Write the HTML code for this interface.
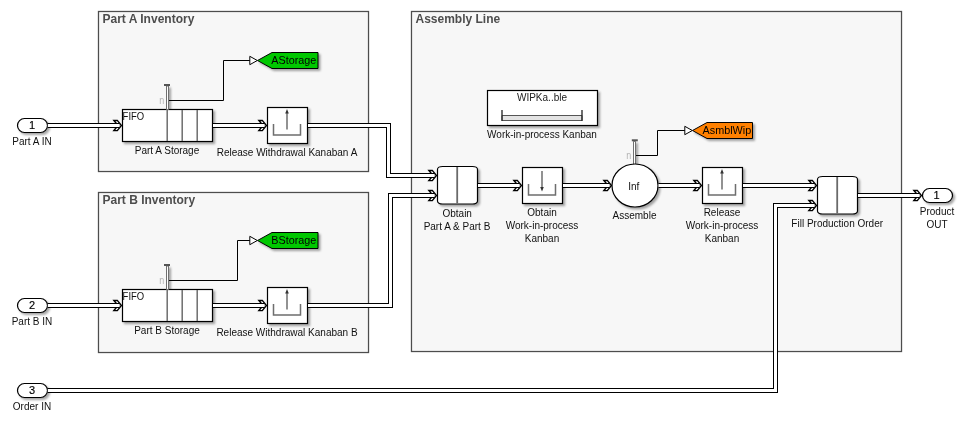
<!DOCTYPE html>
<html><head><meta charset="utf-8">
<style>
html,body{margin:0;padding:0;background:#fff;}
body{width:966px;height:425px;overflow:hidden;}
svg{display:block;will-change:transform;font-family:"Liberation Sans",sans-serif;}
.sb{fill:none;stroke:#000;stroke-width:5;stroke-linejoin:miter;stroke-linecap:butt;}
.sw{fill:none;stroke:#fff;stroke-width:3;stroke-linejoin:miter;stroke-linecap:butt;}
.ab{fill:none;stroke:#000;stroke-width:3.2;stroke-linejoin:miter;}
.aw{fill:none;stroke:#fff;stroke-width:1;stroke-linejoin:miter;}
.lbl{font-size:10px;fill:#111;text-anchor:middle;}
.num{font-size:11px;fill:#000;stroke:#000;stroke-width:0.15;text-anchor:middle;}
.ttl{font-size:12px;font-weight:bold;fill:#4d4d4d;}
.blk{fill:#fff;stroke:#000;stroke-width:1.2;}
.thin{fill:none;stroke:#000;stroke-width:1;}
.gi2{fill:none;stroke:#6a6a6a;stroke-width:1.8;}
.gi{fill:none;stroke:#6e6e6e;stroke-width:1.5;}
</style></head><body>
<svg width="966" height="425" viewBox="0 0 966 425">
<defs>
<filter id="sh" x="-20%" y="-20%" width="150%" height="150%">
<feDropShadow dx="2" dy="2" stdDeviation="1.3" flood-color="#000" flood-opacity="0.35"/>
</filter>
</defs>

<!-- subsystem areas -->
<rect x="98.5" y="11.5" width="270" height="160" fill="#fff" stroke="#4d4d4d" stroke-width="1.3"/>
<rect x="100" y="13" width="267" height="157" fill="#f7f7f7"/>
<rect x="98.5" y="192.5" width="270" height="160" fill="#fff" stroke="#4d4d4d" stroke-width="1.3"/>
<rect x="100" y="194" width="267" height="157" fill="#f7f7f7"/>
<rect x="411.5" y="11.5" width="490" height="340" fill="#fff" stroke="#4d4d4d" stroke-width="1.3"/>
<rect x="413" y="13" width="487" height="337" fill="#f7f7f7"/>
<text class="ttl" x="102.5" y="23">Part A Inventory</text>
<text class="ttl" x="102.5" y="204">Part B Inventory</text>
<text class="ttl" x="415.5" y="23">Assembly Line</text>

<!-- thin signal lines to gotos -->
<path class="thin" d="M168,100.5 H223.5 V60.5 H250"/>
<path class="thin" d="M168,280.5 H237.5 V240.5 H250"/>
<path class="thin" d="M636,155.5 H657.5 V130.5 H685"/>

<!-- ===== inports/outports ===== -->
<g filter="url(#sh)">
<rect class="blk" x="17.5" y="118.5" width="30" height="14" rx="7" ry="7"/>
<rect class="blk" x="17.5" y="298.5" width="30" height="14" rx="7" ry="7"/>
<rect class="blk" x="17.5" y="383.5" width="30" height="14" rx="7" ry="7"/>
<rect class="blk" x="922.5" y="188.5" width="30" height="14" rx="7" ry="7"/>
</g>
<text class="num" x="32" y="129">1</text>
<text class="num" x="32" y="309">2</text>
<text class="num" x="32" y="394">3</text>
<text class="num" x="936.6" y="199">1</text>
<text class="lbl" x="32" y="145">Part A IN</text>
<text class="lbl" x="32" y="325">Part B IN</text>
<text class="lbl" x="32" y="410">Order IN</text>
<text class="lbl" x="937" y="215">Product</text>
<text class="lbl" x="937" y="227.5">OUT</text>

<!-- ===== Part A ===== -->
<g filter="url(#sh)">
<rect class="blk" x="122.5" y="109.5" width="90" height="32"/>
<rect class="blk" x="267.5" y="107.5" width="40" height="36"/>
<path d="M166.5,86 V109.5 H168.5 V86 Z" fill="#fff" stroke="#707070" stroke-width="1"/>
</g>
<rect x="164" y="84" width="6" height="2" fill="#555"/>
<path class="gi" d="M167.2,110 V141 M182.2,110 V141 M197.2,110 V141"/>
<text x="122.6" y="120" textLength="21.6" lengthAdjust="spacingAndGlyphs" style="font-size:10px;fill:#111">FIFO</text>
<text x="159.3" y="103.7" textLength="5" lengthAdjust="spacingAndGlyphs" style="font-size:10px;fill:#b4b4b4">n</text>
<path class="gi" d="M273.5,124 V135 H300.5 V124"/>
<path class="gi" d="M287,129.5 V113"/>
<path d="M285.2,113.5 L287,109 L288.8,113.5 Z" fill="#333"/>
<text class="lbl" x="167" y="153.5">Part A Storage</text>
<text class="lbl" x="287" y="156">Release Withdrawal Kanaban A</text>
<!-- goto A -->
<path d="M249.8,56.3 L257.3,60.5 L249.8,64.7 Z" fill="#fff" stroke="#000" stroke-width="1"/>
<path d="M257.5,60.5 L272,52.5 H318 V68.5 H272 Z" fill="#00c800" stroke="#000" stroke-width="1" filter="url(#sh)"/>
<text x="271.3" y="63.5" textLength="45" lengthAdjust="spacingAndGlyphs" style="font-size:10.3px;fill:#000">AStorage</text>

<!-- ===== Part B ===== -->
<g filter="url(#sh)">
<rect class="blk" x="122.5" y="289.5" width="90" height="32"/>
<rect class="blk" x="267.5" y="287.5" width="40" height="36"/>
<path d="M166.5,266 V289.5 H168.5 V266 Z" fill="#fff" stroke="#707070" stroke-width="1"/>
</g>
<rect x="164" y="264" width="6" height="2" fill="#555"/>
<path class="gi" d="M167.2,290 V321 M182.2,290 V321 M197.2,290 V321"/>
<text x="122.6" y="300" textLength="21.6" lengthAdjust="spacingAndGlyphs" style="font-size:10px;fill:#111">FIFO</text>
<text x="159.3" y="283.7" textLength="5" lengthAdjust="spacingAndGlyphs" style="font-size:10px;fill:#b4b4b4">n</text>
<path class="gi" d="M273.5,304 V315 H300.5 V304"/>
<path class="gi" d="M287,309.5 V293"/>
<path d="M285.2,293.5 L287,289 L288.8,293.5 Z" fill="#333"/>
<text class="lbl" x="167" y="333.5">Part B Storage</text>
<text class="lbl" x="287" y="336">Release Withdrawal Kanaban B</text>
<!-- goto B -->
<path d="M249.8,236.3 L257.3,240.5 L249.8,244.7 Z" fill="#fff" stroke="#000" stroke-width="1"/>
<path d="M257.5,240.5 L272,232.5 H318 V248.5 H272 Z" fill="#00c800" stroke="#000" stroke-width="1" filter="url(#sh)"/>
<text x="271.3" y="243.5" textLength="45" lengthAdjust="spacingAndGlyphs" style="font-size:10.3px;fill:#000">BStorage</text>

<!-- ===== Assembly ===== -->
<g filter="url(#sh)">
<rect class="blk" x="487.5" y="90.5" width="110" height="35"/>
<rect class="blk" x="437.5" y="166.5" width="40" height="37.5" rx="5" ry="3"/>
<rect class="blk" x="522.5" y="167.5" width="40" height="36"/>
<path d="M633.5,141.3 V165 H635.5 V141.3 Z" fill="#fff" stroke="#707070" stroke-width="1"/>
<ellipse class="blk" cx="635" cy="185.5" rx="23" ry="21.5"/>
<rect class="blk" x="702.5" y="167.5" width="40" height="36"/>
<rect class="blk" x="817.5" y="176.5" width="40" height="37.5" rx="5" ry="3"/>
</g>
<path class="gi2" d="M457.2,167 V203.5"/>
<path class="gi2" d="M837.2,177 V213.5"/>
<rect x="631.8" y="139.3" width="6" height="2" fill="#555"/>
<text x="626.3" y="158.7" textLength="5" lengthAdjust="spacingAndGlyphs" style="font-size:10px;fill:#b4b4b4">n</text>
<text class="lbl" x="542" y="100.5" style="fill:#222">WIPKa..ble</text>
<path d="M502,115.5 H582 V120.5 H502 Z" fill="#e3e3e3" stroke="#555" stroke-width="1"/>
<path d="M502,110 V121 M582,110 V121" stroke="#222" stroke-width="1.3"/>
<text class="lbl" x="542" y="138">Work-in-process Kanban</text>

<text class="lbl" x="457.2" y="216.7">Obtain</text>
<text class="lbl" x="457" y="229.5">Part A &amp; Part B</text>

<path class="gi" d="M528.5,184 V195 H555.5 V184"/>
<path class="gi" d="M542,171 V187"/>
<path d="M540.2,187 L542,191.5 L543.8,187 Z" fill="#333"/>
<text class="lbl" x="542" y="216">Obtain</text>
<text class="lbl" x="542" y="229">Work-in-process</text>
<text class="lbl" x="542" y="241.5">Kanban</text>

<text class="lbl" x="633.8" y="190" style="fill:#111">Inf</text>
<text class="lbl" x="634.5" y="219">Assemble</text>

<path class="gi" d="M708.5,184 V195 H735.5 V184"/>
<path class="gi" d="M722,189.5 V173"/>
<path d="M720.2,173.5 L722,169 L723.8,173.5 Z" fill="#333"/>
<text class="lbl" x="722" y="215.5">Release</text>
<text class="lbl" x="722" y="229">Work-in-process</text>
<text class="lbl" x="722" y="241.5">Kanban</text>

<text class="lbl" x="837.2" y="226.5">Fill Production Order</text>

<path d="M684.8,126.3 L692.3,130.5 L684.8,134.7 Z" fill="#fff" stroke="#000" stroke-width="1"/>
<path d="M692.5,130.5 L707,122.5 H752.5 V138.5 H707 Z" fill="#ff8000" stroke="#000" stroke-width="1" filter="url(#sh)"/>
<text x="702.6" y="134" textLength="48.6" lengthAdjust="spacingAndGlyphs" style="font-size:10.3px;fill:#000">AsmblWip</text>
<!-- ===== signal lines (double) ===== -->
<!-- arrowheads -->
<g id="arrows">
<g transform="translate(121.8,125.5)"><path d="M-7.9,-5.1 H-4.5 L-0.4,0 L-4.5,5.1 H-7.9 L-3.8,0 Z" fill="#fff" stroke="#000" stroke-width="1.45" stroke-linejoin="miter"/></g>
<g transform="translate(266.8,125.5)"><path d="M-7.9,-5.1 H-4.5 L-0.4,0 L-4.5,5.1 H-7.9 L-3.8,0 Z" fill="#fff" stroke="#000" stroke-width="1.45" stroke-linejoin="miter"/></g>
<g transform="translate(121.8,305.5)"><path d="M-7.9,-5.1 H-4.5 L-0.4,0 L-4.5,5.1 H-7.9 L-3.8,0 Z" fill="#fff" stroke="#000" stroke-width="1.45" stroke-linejoin="miter"/></g>
<g transform="translate(266.8,305.5)"><path d="M-7.9,-5.1 H-4.5 L-0.4,0 L-4.5,5.1 H-7.9 L-3.8,0 Z" fill="#fff" stroke="#000" stroke-width="1.45" stroke-linejoin="miter"/></g>
<g transform="translate(436.8,175.5)"><path d="M-7.9,-5.1 H-4.5 L-0.4,0 L-4.5,5.1 H-7.9 L-3.8,0 Z" fill="#fff" stroke="#000" stroke-width="1.45" stroke-linejoin="miter"/></g>
<g transform="translate(436.8,195.5)"><path d="M-7.9,-5.1 H-4.5 L-0.4,0 L-4.5,5.1 H-7.9 L-3.8,0 Z" fill="#fff" stroke="#000" stroke-width="1.45" stroke-linejoin="miter"/></g>
<g transform="translate(521.8,185.5)"><path d="M-7.9,-5.1 H-4.5 L-0.4,0 L-4.5,5.1 H-7.9 L-3.8,0 Z" fill="#fff" stroke="#000" stroke-width="1.45" stroke-linejoin="miter"/></g>
<g transform="translate(611.8,185.5)"><path d="M-7.9,-5.1 H-4.5 L-0.4,0 L-4.5,5.1 H-7.9 L-3.8,0 Z" fill="#fff" stroke="#000" stroke-width="1.45" stroke-linejoin="miter"/></g>
<g transform="translate(701.8,185.5)"><path d="M-7.9,-5.1 H-4.5 L-0.4,0 L-4.5,5.1 H-7.9 L-3.8,0 Z" fill="#fff" stroke="#000" stroke-width="1.45" stroke-linejoin="miter"/></g>
<g transform="translate(816.8,185.5)"><path d="M-7.9,-5.1 H-4.5 L-0.4,0 L-4.5,5.1 H-7.9 L-3.8,0 Z" fill="#fff" stroke="#000" stroke-width="1.45" stroke-linejoin="miter"/></g>
<g transform="translate(816.8,205.5)"><path d="M-7.9,-5.1 H-4.5 L-0.4,0 L-4.5,5.1 H-7.9 L-3.8,0 Z" fill="#fff" stroke="#000" stroke-width="1.45" stroke-linejoin="miter"/></g>
<g transform="translate(921.8,195.5)"><path d="M-7.9,-5.1 H-4.5 L-0.4,0 L-4.5,5.1 H-7.9 L-3.8,0 Z" fill="#fff" stroke="#000" stroke-width="1.45" stroke-linejoin="miter"/></g>
</g>
<g id="sigs">
<path class="sb" d="M47.8,125.5 H119.3"/><path class="sw" d="M47.8,125.5 H119.3"/>
<path class="sb" d="M213,125.5 H264.3"/><path class="sw" d="M213,125.5 H264.3"/>
<path class="sb" d="M308,125.5 H388.5 V175.5 H434.3"/><path class="sw" d="M308,125.5 H388.5 V175.5 H434.3"/>
<path class="sb" d="M47.8,305.5 H119.3"/><path class="sw" d="M47.8,305.5 H119.3"/>
<path class="sb" d="M213,305.5 H264.3"/><path class="sw" d="M213,305.5 H264.3"/>
<path class="sb" d="M308,305.5 H390.5 V195.5 H434.3"/><path class="sw" d="M308,305.5 H390.5 V195.5 H434.3"/>
<path class="sb" d="M478,185.5 H519.3"/><path class="sw" d="M478,185.5 H519.3"/>
<path class="sb" d="M563,185.5 H609.3"/><path class="sw" d="M563,185.5 H609.3"/>
<path class="sb" d="M658.5,185.5 H699.3"/><path class="sw" d="M658.5,185.5 H699.3"/>
<path class="sb" d="M743,185.5 H814.3"/><path class="sw" d="M743,185.5 H814.3"/>
<path class="sb" d="M47.8,390.5 H775.5 V205.5 H814.3"/><path class="sw" d="M47.8,390.5 H775.5 V205.5 H814.3"/>
<path class="sb" d="M858,195.5 H919.3"/><path class="sw" d="M858,195.5 H919.3"/>
</g>


</svg>
</body></html>
